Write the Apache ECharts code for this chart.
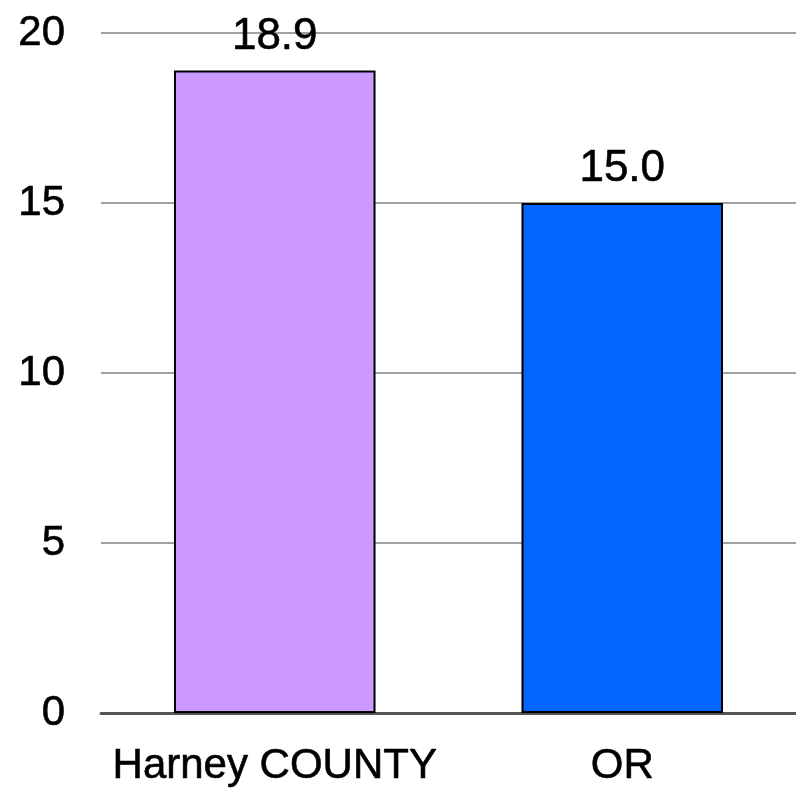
<!DOCTYPE html>
<html>
<head>
<meta charset="utf-8">
<script src="https://cdn.jsdelivr.net/npm/echarts@6/dist/echarts.min.js"></script>
<style>html,body{margin:0;padding:0;background:#fff}#c{width:796px;height:797px}</style>
</head>
<body>
<div id="c"></div>
<script>
var categories = ["Harney COUNTY", "OR"];
var values = [18.9, 15.0];
var barColors = ["#CC99FF", "#0066FF"];

var font = 'Liberation Sans, Arial, sans-serif';
var chart = echarts.init(document.getElementById('c'), null, {renderer: 'canvas'});
chart.setOption({
  backgroundColor: '#ffffff',
  animation: false,
  grid: {left: 101, top: 33, width: 701, height: 680, containLabel: false},
  xAxis: {
    type: 'category',
    data: categories,
    axisTick: {show: false},
    axisLine: {show: true, lineStyle: {color: '#555555', width: 3}},
    axisLabel: {interval: 0, hideOverlap: false, fontFamily: font, fontSize: 42, color: '#000', margin: 32,
      textBorderColor: '#000', textBorderWidth: 0.6}
  },
  yAxis: {
    type: 'value',
    min: 0, max: 20, interval: 5,
    axisLine: {show: false},
    axisTick: {show: false},
    splitLine: {lineStyle: {color: '#A0A0A0', width: 2}},
    axisLabel: {fontFamily: font, fontSize: 42, color: '#000', margin: 36,
      textBorderColor: '#000', textBorderWidth: 0.6}
  },
  series: [{
    type: 'bar',
    barWidth: '58%',
    data: values.map(function (v, i) {
      return {value: v, itemStyle: {color: barColors[i]}};
    }),
    itemStyle: {borderColor: '#000', borderWidth: 2},
    label: {
      show: true, position: 'top', distance: 12,
      fontFamily: font, fontSize: 44, color: '#000',
      textBorderColor: '#000', textBorderWidth: 0.6,
      formatter: function (p) { return p.value.toFixed(1); }
    }
  }]
});
</script>
</body>
</html>
